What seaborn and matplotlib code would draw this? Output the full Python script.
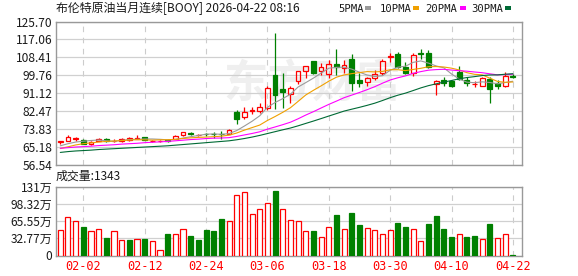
import numpy as np
import pandas as pd
import matplotlib
matplotlib.use("Agg")
import matplotlib.pyplot as plt
import seaborn as sns
from matplotlib.patches import Rectangle

# ---------------- data ----------------
all_days = pd.bdate_range("2026-01-28", "2026-04-22")
dates = [d for d in all_days if d.strftime("%m-%d") != "04-03"]
date_labels = [d.strftime("%m-%d") for d in dates]

opens = [67.5, 68.3, 69.3, 68.8, 66.8, 68.3, 69.0, 68.0, 68.1, 68.5,
         69.3, 69.8, 68.0, 67.9, 68.5, 69.0, 70.8, 71.8, 70.9, 71.5,
         71.6, 71.5, 71.7, 82.0, 79.6, 82.6, 82.4, 84.1, 99.9, 93.0,
         90.9, 97.1, 102.0, 106.6, 102.0, 100.4, 105.3, 103.1, 107.4, 97.6,
         96.5, 98.4, 101.0, 108.5, 109.8, 103.9, 100.75, 110.5, 110.6, 95.65,
         97.6, 97.1, 101.5, 97.6, 95.5, 94.8, 97.9, 96.3, 94.8, 99.6]
highs = [68.0, 70.9, 70.2, 69.0, 68.0, 69.6, 69.5, 68.9, 69.6, 70.0,
         70.9, 70.0, 68.6, 68.4, 69.3, 70.9, 72.4, 72.4, 71.7, 72.2,
         72.4, 72.7, 73.7, 82.9, 84.5, 84.5, 86.4, 94.7, 120.1, 100.8,
         94.7, 102.0, 104.3, 106.7, 105.5, 107.1, 112.3, 107.1, 110.1, 100.75,
         98.9, 102.3, 107.4, 110.3, 110.8, 106.3, 110.3, 112.3, 111.9, 97.3,
         99.1, 97.6, 104.2, 99.1, 97.1, 98.9, 98.85, 97.6, 101.2, 100.3]
lows = [66.7, 68.2, 68.1, 66.5, 66.3, 68.0, 67.7, 67.4, 67.7, 68.2,
        68.9, 68.5, 67.5, 67.6, 67.4, 68.9, 70.5, 70.85, 70.6, 70.4,
        69.7, 69.3, 71.3, 76.4, 78.5, 80.9, 81.7, 83.2, 83.7, 84.1,
        86.4, 95.6, 98.4, 100.3, 99.9, 98.4, 99.9, 100.75, 92.0, 94.35,
        94.4, 97.6, 99.9, 106.3, 103.1, 100.3, 99.6, 107.4, 103.1, 90.4,
        94.8, 94.35, 97.6, 94.8, 94.35, 94.6, 86.4, 93.1, 94.35, 98.4]
closes = [67.9, 69.9, 69.5, 66.7, 67.8, 69.0, 68.0, 68.3, 69.0, 69.6,
          69.7, 68.8, 68.3, 68.2, 68.3, 70.6, 72.3, 71.5, 71.1, 71.3,
          71.4, 71.3, 73.2, 78.5, 82.2, 82.9, 84.5, 93.6, 90.1, 91.5,
          93.6, 101.8, 104.2, 101.0, 103.6, 105.3, 103.9, 104.6, 96.3, 96.3,
          98.4, 100.3, 106.6, 109.2, 103.9, 100.8, 109.5, 110.1, 103.9, 97.1,
          96.3, 94.7, 97.9, 96.3, 95.8, 98.4, 93.1, 94.7, 99.45, 98.9]

ma5 = [65.8, 66.8, 67.6, 68.0, 68.36, 68.58, 68.2, 67.96, 68.42, 68.78,
       68.92, 69.08, 69.08, 68.92, 68.66, 68.84, 69.54, 70.18, 70.76, 71.36,
       71.52, 71.32, 71.66, 73.14, 75.32, 77.62, 80.26, 84.34, 86.66, 88.52,
       90.66, 94.12, 96.24, 98.42, 100.84, 103.18, 103.6, 103.68, 102.74, 101.28,
       99.9, 99.18, 99.58, 102.16, 103.68, 104.16, 106.0, 106.7, 105.64, 104.28,
       103.38, 100.42, 97.98, 96.46, 96.2, 96.62, 96.3, 95.66, 96.29, 96.91]
ma10 = [64.5, 65.3, 66.2, 66.8, 67.2, 67.6, 67.9, 68.1, 68.3, 68.57,
        68.75, 68.64, 68.52, 68.67, 68.72, 68.88, 69.31, 69.63, 69.84, 70.01,
        70.18, 70.43, 70.92, 71.95, 73.34, 74.57, 75.79, 78.0, 79.9, 81.92,
        84.14, 87.19, 90.29, 92.54, 94.68, 96.92, 98.86, 99.96, 100.58, 101.06,
        101.54, 101.39, 101.63, 102.45, 102.48, 102.03, 102.59, 103.14, 103.9, 103.98,
        103.77, 103.21, 102.34, 101.05, 100.24, 100.0, 98.36, 96.82, 96.38, 96.56]
ma20 = [64.6, 64.9, 65.2, 65.4, 65.6, 65.9, 66.1, 66.3, 66.6, 66.8,
        67.0, 67.3, 67.5, 67.7, 67.9, 68.2, 68.5, 68.8, 69.0, 69.29,
        69.47, 69.54, 69.72, 70.31, 71.03, 71.73, 72.55, 73.82, 74.87, 75.97,
        77.16, 78.81, 80.61, 82.25, 84.01, 85.75, 87.33, 88.98, 90.24, 91.49,
        92.84, 94.29, 95.96, 97.5, 98.58, 99.48, 100.73, 101.55, 102.24, 102.52,
        102.66, 102.3, 101.99, 101.75, 101.36, 101.02, 100.48, 99.98, 100.14, 100.27]
ma30 = [62.6, 63.0, 63.3, 63.5, 63.7, 64.0, 64.2, 64.4, 64.6, 64.8,
        65.0, 65.2, 65.4, 65.6, 65.8, 66.1, 66.4, 66.7, 67.0, 67.3,
        67.6, 67.9, 68.2, 68.7, 69.3, 70.0, 70.8, 71.7, 72.6, 73.5,
        74.36, 75.42, 76.58, 77.72, 78.91, 80.13, 81.32, 82.53, 83.44, 84.33,
        85.29, 86.34, 87.61, 88.98, 90.17, 91.18, 92.42, 93.7, 94.79, 95.65,
        96.49, 97.26, 98.09, 98.68, 99.13, 99.65, 99.94, 99.97, 100.29, 100.53]

# volume in 万 (last bar: 1343)
volume = [49.2, 74.1, 66.5, 53.7, 47.3, 51.1, 33.9, 47.3, 28.8, 28.8,
          32.0, 32.0, 26.8, 10.9, 40.3, 41.5, 51.1, 37.7, 30.0, 49.2,
          46.0, 70.3, 65.2, 116.3, 122.0, 79.9, 89.5, 101.0, 122.7, 89.5,
          68.4, 66.5, 46.0, 46.0, 35.8, 55.0, 76.7, 51.1, 80.5, 57.5,
          53.0, 49.2, 41.5, 49.2, 61.3, 53.7, 51.1, 26.8, 59.4, 74.8,
          49.8, 34.5, 41.5, 34.5, 36.4, 32.0, 59.4, 33.9, 41.5, 0.1343]
vol_up = [1, 1, 1, 0, 1, 1, 0, 1, 1, 0,
          1, 0, 1, 1, 0, 1, 1, 0, 0, 0,
          0, 0, 1, 1, 1, 1, 1, 1, 0, 1,
          1, 1, 1, 0, 1, 1, 0, 1, 0, 0,
          1, 1, 1, 1, 0, 0, 1, 1, 0, 0,
          0, 0, 1, 0, 0, 1, 0, 1, 1, 0]

price_ticks = [56.54, 65.18, 73.83, 82.47, 91.12, 99.76, 108.41, 117.06, 125.70]
vol_ticks = [0, 32.77, 65.55, 98.32, 131.09]
vol_tick_labels = ["0", "32.77万", "65.55万", "98.32万", "131万"]
xtick_labels = ["02-02", "02-12", "02-24", "03-06", "03-18", "03-30", "04-10", "04-22"]

title_text = "布伦特原油当月连续[BOOY] 2026-04-22 08:16"
vol_title = "成交量:1343"
ma_names = ["5PMA", "10PMA", "20PMA", "30PMA"]

# ---------------- style ----------------
sns.set_theme(style="white")
plt.rcParams["font.family"] = ["Noto Sans CJK SC", "DejaVu Sans"]

RED = "#ff0000"
GREEN = "#008000"
MA_COLORS = ["#9a9a9a", "#f0a000", "#ff00ff", "#006a35"]
SPINE = "#999999"
GRID = "#d0d0d0"

W, H = 578, 276
fig = plt.figure(figsize=(W / 100, H / 100), dpi=100)

def frac(x0, y0, x1, y1):
    return [x0 / W, 1 - y1 / H, (x1 - x0) / W, (y1 - y0) / H]

ax = fig.add_axes(frac(56, 21.5, 522, 165))
axv = fig.add_axes(frac(56, 187, 522, 255.5))

n = len(closes)
x = np.arange(n)
o = np.array(opens); c = np.array(closes); h = np.array(highs); l = np.array(lows)
top = np.maximum(o, c); bot = np.minimum(o, c)
up = c >= o
tick_pos = [date_labels.index(t) for t in xtick_labels]

for a in (ax, axv):
    a.set_xlim(-0.56, 60.19)
    a.set_xticks(tick_pos)
    a.grid(axis="x", color="#cccccc", ls=(0, (5, 5)), lw=0.8)
    a.grid(axis="y", color=GRID, ls="-", lw=0.9)
    for s in a.spines.values():
        s.set_color(SPINE); s.set_linewidth(1.0)
    a.tick_params(length=0, pad=2.5)
    a.set_axisbelow(True)

# ----- watermark -----
ax.text(0.55, 0.56, "东方财富", transform=ax.transAxes, ha="center", va="center",
        fontsize=32, color="#efefef", fontweight="bold", style="italic", zorder=0.5)

# ----- candles -----
cols = np.where(up, RED, GREEN)
ax.vlines(x, bot, l, color=cols, lw=0.9, zorder=2)
ax.vlines(x, top, h, color=cols, lw=0.9, zorder=2)
bw = 0.62
ax.bar(x[up], (c - o)[up], bottom=o[up], width=bw, facecolor="none",
       edgecolor=RED, lw=0.9, zorder=3)
ax.bar(x[~up], (o - c)[~up], bottom=c[~up], width=bw, facecolor=GREEN,
       edgecolor=GREEN, lw=0.9, zorder=3)

# ----- moving averages -----
for ma, col in zip([ma5, ma10, ma20, ma30], MA_COLORS):
    sns.lineplot(x=x, y=ma, ax=ax, color=col, lw=0.8, legend=False, zorder=4)

ax.set_ylim(price_ticks[0], price_ticks[-1])
ax.set_yticks(price_ticks)
ax.set_yticklabels([f"{v:.2f}" for v in price_ticks], fontsize=8.6, color="#1a1a1a")
ax.set_xticklabels([])
ax.set_xlabel(""); ax.set_ylabel("")

# ----- volume -----
v = np.array(volume); vu = np.array(vol_up).astype(bool)
axv.bar(x[vu], v[vu], width=0.66, facecolor="white", edgecolor=RED, lw=0.9, zorder=3)
axv.bar(x[~vu], v[~vu], width=0.66, facecolor=GREEN, edgecolor=GREEN, lw=0.9, zorder=3)
axv.set_ylim(0, vol_ticks[-1])
axv.set_yticks(vol_ticks)
axv.set_yticklabels(vol_tick_labels, fontsize=8.6, color="#1a1a1a")
axv.set_xticklabels(xtick_labels, fontsize=8.6, color=RED,
                    family=["DejaVu Sans Mono"])
axv.tick_params(axis="x", pad=3)

# ----- texts -----
fig.text(56 / W, 1 - 9 / H, title_text, ha="left", va="center", fontsize=8.6, color="#1a1a1a")
fig.text(56 / W, 1 - 176 / H, vol_title, ha="left", va="center", fontsize=8.6, color="#1a1a1a")

leg_text_x = [338, 380, 425.5, 471.5]
leg_rect_x = [365, 413, 460, 505]
for name, tx, rx, col in zip(ma_names, leg_text_x, leg_rect_x, MA_COLORS):
    fig.text(tx / W, 1 - 9 / H, name, ha="left", va="center", fontsize=7.6,
             color="#1a1a1a", family=["DejaVu Sans Mono"])
    fig.add_artist(Rectangle((rx / W, 1 - 10 / H), 5.5 / W, 3.5 / H,
                             transform=fig.transFigure, color=col, lw=0))

fig.savefig("out.png", dpi=100)
